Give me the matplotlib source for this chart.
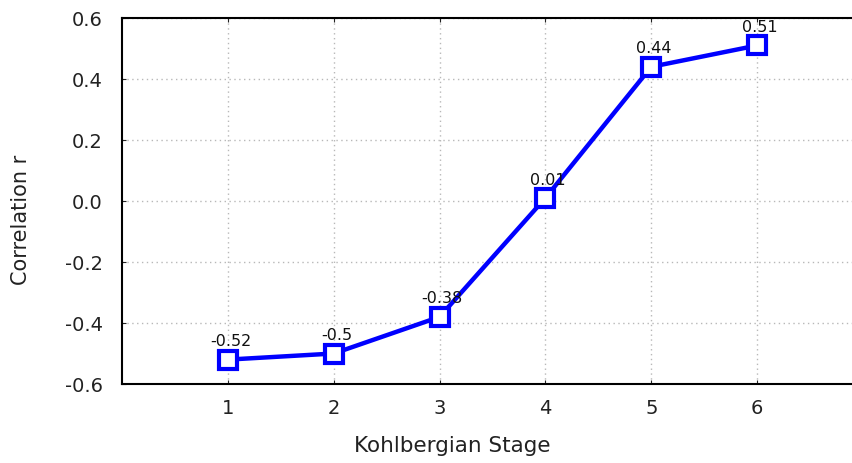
import matplotlib.pyplot as plt

stages = [1, 2, 3, 4, 5, 6]
corr_r = [-0.52, -0.5, -0.38, 0.01, 0.44, 0.51]
point_labels = ["-0.52", "-0.5", "-0.38", "0.01", "0.44", "0.51"]
y_ticks = [-0.6, -0.4, -0.2, 0.0, 0.2, 0.4, 0.6]

plt.rcParams["font.family"] = ["DejaVu Sans"]

fig = plt.figure(figsize=(8.53, 4.63), dpi=100)
# right edge of the plot box runs past the image edge, as in the source
ax = fig.add_axes([0.143, 0.1706, 0.8687, 0.7905])

ax.plot(stages, corr_r, color="#0000ff", lw=3.2, marker="s", ms=13,
        mfc="white", mec="#0000ff", mew=3, zorder=3, clip_on=False)

for x, y, lab in zip(stages, corr_r, point_labels):
    ax.annotate(lab, (x, y), xytext=(2, 7.5), textcoords="offset points",
                ha="center", va="bottom", fontsize=11.5, color="#111111", zorder=4)

ax.set_xlim(0, 7)
ax.set_ylim(-0.6, 0.6)
ax.set_xticks(stages)
ax.set_yticks(y_ticks)
ax.set_yticklabels([f"{v:.1f}" for v in y_ticks])
ax.grid(True, color="#b8b8b8", linestyle=(0, (1, 2.5)), linewidth=1)

for side in ["left", "top", "bottom"]:
    ax.spines[side].set_linewidth(1.5)
ax.spines["right"].set_visible(False)

ax.tick_params(axis="both", direction="in", length=3, labelsize=14, colors="#222222",
               top=True)
ax.tick_params(axis="x", pad=11)
ax.tick_params(axis="y", pad=14)

fig.text(452 / 853, 1 - 446 / 463, "Kohlbergian Stage", ha="center", va="center",
         fontsize=15.5, color="#222222")
fig.text(21 / 853, 1 - 220 / 463, "Correlation r", ha="center", va="center",
         rotation=90, fontsize=15, color="#222222")

fig.savefig("out.png", dpi=100)
